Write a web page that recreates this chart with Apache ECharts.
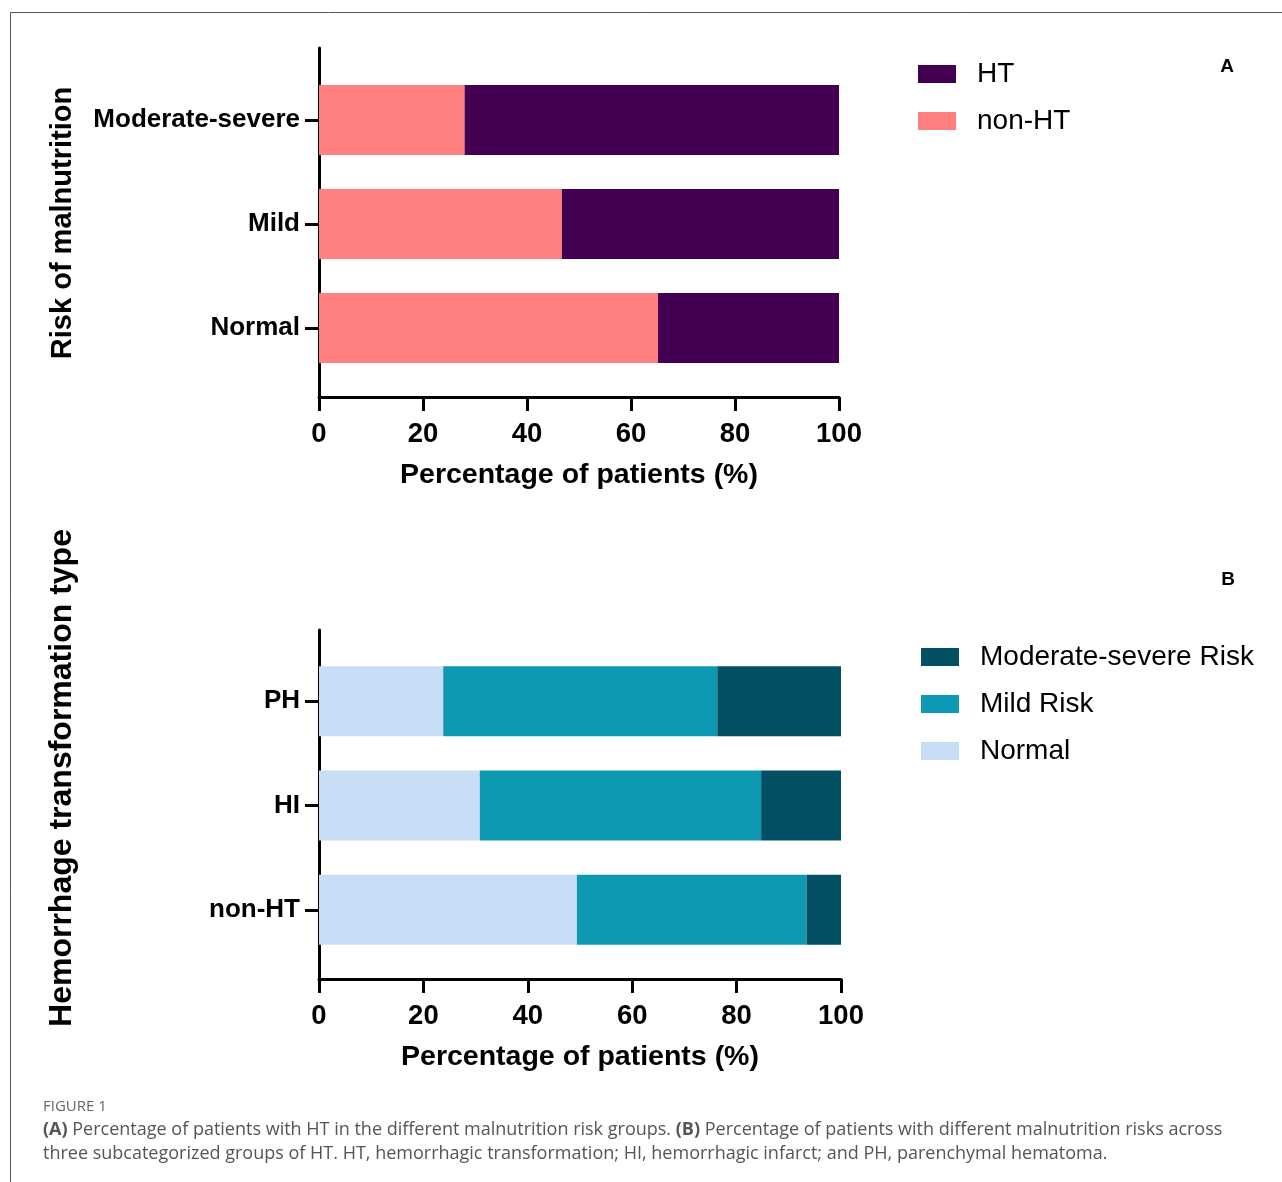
<!DOCTYPE html>
<html>
<head>
<meta charset="utf-8">
<script src="https://cdn.jsdelivr.net/npm/echarts@6/dist/echarts.min.js"></script>
<style>
html,body{margin:0;padding:0;background:#fff;}
#chart{width:1282px;height:1182px;}
</style>
</head>
<body>
<div id="chart"></div>
<script>
// Panel A data
const catsA = ['Moderate-severe', 'Mild', 'Normal'];
const nonHT_A = [28.0, 46.7, 65.2];
const HT_A = [72.0, 53.3, 34.8];

// Panel B data
const catsB = ['PH', 'HI', 'non-HT'];
const normalB = [23.8, 30.8, 49.4];
const mildB = [52.5, 53.9, 44.0];
const modSevB = [23.7, 15.3, 6.6];

const xTicks = [0, 20, 40, 60, 80, 100];

const FONT = '"Liberation Sans", Arial, Helvetica, sans-serif';
const chart = echarts.init(document.getElementById('chart'));

const axisLineStyle = { show: true, lineStyle: { color: '#000', width: 3 } };
const tickStyle = { show: true, length: 14, lineStyle: { color: '#000', width: 3 } };

function outerX(gi) {
  return {
    type: 'value', gridIndex: gi, min: 0, max: 100, interval: 20,
    axisLine: axisLineStyle, axisTick: tickStyle, splitLine: { show: false },
    axisLabel: { color: '#000', fontFamily: FONT, fontWeight: 'bold', fontSize: 27.5, margin: 23,
      formatter: v => xTicks.includes(v) ? String(v) : '' },
    name: 'Percentage of patients (%)', nameLocation: 'middle', nameGap: 64,
    nameTextStyle: { color: '#000', fontFamily: FONT, fontWeight: 'bold', fontSize: 28.5 }
  };
}
function outerY(gi) {
  return {
    type: 'value', gridIndex: gi, min: 0, max: 1,
    axisLine: axisLineStyle, axisTick: { show: false }, axisLabel: { show: false }, splitLine: { show: false }
  };
}
function innerX(gi) {
  return { type: 'value', gridIndex: gi, min: 0, max: 100, show: false };
}
function innerY(gi, cats) {
  return {
    type: 'category', gridIndex: gi, data: cats, inverse: true,
    axisLine: { show: false },
    axisTick: { show: true, alignWithLabel: true, length: 14, lineStyle: { color: '#000', width: 3 } },
    axisLabel: { color: '#000', fontFamily: FONT, fontWeight: 'bold', fontSize: 26, margin: 19, padding: [3, 0, 0, 0] },
    splitLine: { show: false }
  };
}

const legendText = { color: '#000', fontFamily: FONT, fontSize: 28, lineHeight: 28, padding: [0, 0, 0, 16] };

chart.setOption({
  backgroundColor: '#fff',
  animation: false,
  grid: [
    { left: 319, top: 48, width: 520, height: 349 },
    { left: 319, top: 68, width: 520, height: 312 },
    { left: 319, top: 630, width: 522, height: 349 },
    { left: 319, top: 649, width: 522, height: 313 }
  ],
  xAxis: [outerX(0), innerX(1), outerX(2), innerX(3)],
  yAxis: [outerY(0), innerY(1, catsA), outerY(2), innerY(3, catsB)],
  legend: [
    { data: ['HT', 'non-HT'], orient: 'vertical', left: 913, top: 55, icon: 'rect',
      itemWidth: 38, itemHeight: 18, itemGap: 19, textStyle: legendText, selectedMode: false },
    { data: ['Moderate-severe Risk', 'Mild Risk', 'Normal'], orient: 'vertical', left: 916, top: 638, icon: 'rect',
      itemWidth: 38, itemHeight: 18, itemGap: 19, textStyle: legendText, selectedMode: false }
  ],
  series: [
    { name: 'non-HT', type: 'bar', stack: 'a', xAxisIndex: 1, yAxisIndex: 1, data: nonHT_A, barWidth: 70,
      itemStyle: { color: '#ff7f7f' } },
    { name: 'HT', type: 'bar', stack: 'a', xAxisIndex: 1, yAxisIndex: 1, data: HT_A, barWidth: 70,
      itemStyle: { color: '#430052' } },
    { name: 'Normal', type: 'bar', stack: 'b', xAxisIndex: 3, yAxisIndex: 3, data: normalB, barWidth: 70,
      itemStyle: { color: '#c8ddf6' } },
    { name: 'Mild Risk', type: 'bar', stack: 'b', xAxisIndex: 3, yAxisIndex: 3, data: mildB, barWidth: 70,
      itemStyle: { color: '#0e99b3' } },
    { name: 'Moderate-severe Risk', type: 'bar', stack: 'b', xAxisIndex: 3, yAxisIndex: 3, data: modSevB, barWidth: 70,
      itemStyle: { color: '#034f63' } }
  ],
  graphic: [
    { type: 'line', shape: { x1: 10.5, y1: 12.5, x2: 1282, y2: 12.5 }, style: { stroke: '#555', lineWidth: 1 } },
    { type: 'line', shape: { x1: 10.5, y1: 12.5, x2: 10.5, y2: 1182 }, style: { stroke: '#555', lineWidth: 1 } },
    { type: 'text', x: 63, y: 223, rotation: Math.PI / 2,
      style: { text: 'Risk of malnutrition', fill: '#000', font: 'bold 29px ' + FONT, textAlign: 'center', textVerticalAlign: 'middle' } },
    { type: 'text', x: 62, y: 778, rotation: Math.PI / 2,
      style: { text: 'Hemorrhage transformation type', fill: '#000', font: 'bold 32px ' + FONT, textAlign: 'center', textVerticalAlign: 'middle' } },
    { type: 'text', x: 1227, y: 67,
      style: { text: 'A', fill: '#000', font: 'bold 19px ' + FONT, textAlign: 'center', textVerticalAlign: 'middle' } },
    { type: 'text', x: 1228, y: 580,
      style: { text: 'B', fill: '#000', font: 'bold 19px ' + FONT, textAlign: 'center', textVerticalAlign: 'middle' } },
    { type: 'text', x: 43, y: 1107,
      style: { text: 'FIGURE 1', fill: '#666', font: '15px "Open Sans", sans-serif', textVerticalAlign: 'middle' } },
    { type: 'text', x: 43, y: 1142,
      style: {
        text: '{b|(A)} Percentage of patients with HT in the different malnutrition risk groups. {b|(B)} Percentage of patients with different malnutrition risks across\nthree subcategorized groups of HT. HT, hemorrhagic transformation; HI, hemorrhagic infarct; and PH, parenchymal hematoma.',
        fill: '#555', font: '18px "Open Sans", sans-serif', lineHeight: 24, textVerticalAlign: 'middle',
        rich: { b: { fontWeight: 'bold', fill: '#555', fontFamily: '"Open Sans", sans-serif', fontSize: 18 } }
      } }
  ]
});
</script>
</body>
</html>
